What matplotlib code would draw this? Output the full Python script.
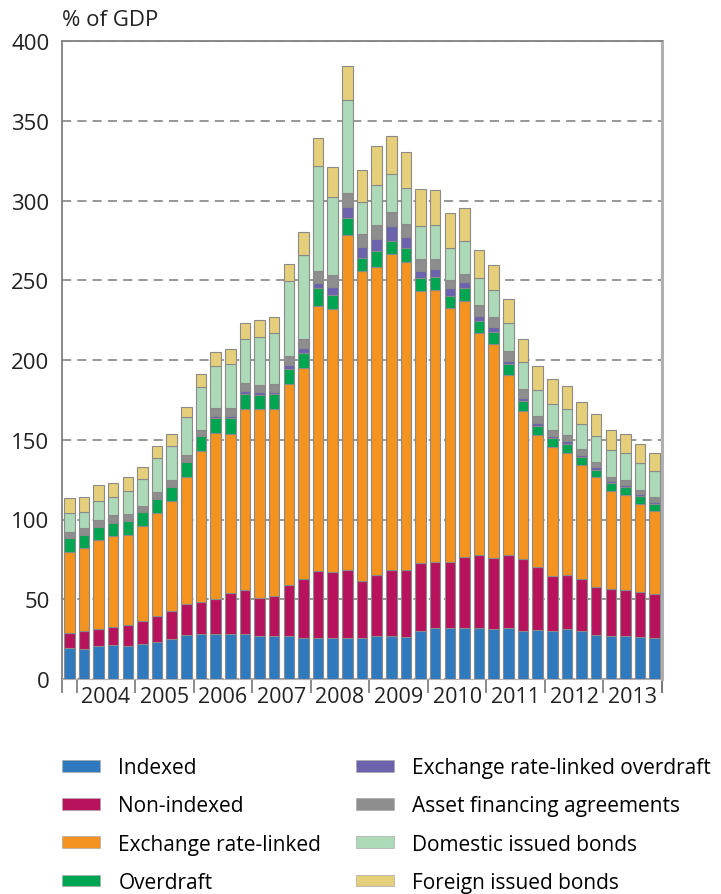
import numpy as np
import matplotlib
matplotlib.use("Agg")
import matplotlib.pyplot as plt
from matplotlib.patches import Patch

plt.rcParams['font.family'] = ['Open Sans', 'DejaVu Sans']

# quarterly, 2003Q4 - 2013Q4, % of GDP
years = ['2004', '2005', '2006', '2007', '2008', '2009', '2010', '2011', '2012', '2013']

indexed = [19.6, 18.8, 20.5, 21.1, 20.5, 21.9, 23.2, 25.3, 27.8, 28.2, 28.0, 28.0, 28.2, 27.2,
           26.7, 27.2, 25.7, 25.7, 25.5, 25.5, 25.7, 27.2, 26.7, 26.5, 29.9, 32.0, 32.0, 32.0,
           31.8, 31.3, 32.0, 29.9, 30.7, 29.9, 31.1, 29.9, 27.8, 27.2, 27.2, 26.5, 25.7]
non_indexed = [9.0, 11.1, 11.0, 11.7, 13.4, 14.5, 16.5, 17.5, 19.2, 20.3, 22.2, 25.7, 27.4, 23.6,
               25.5, 31.5, 37.2, 42.0, 41.6, 43.0, 35.5, 37.8, 41.8, 42.0, 42.8, 41.4, 41.4, 44.2,
               46.1, 44.8, 45.5, 45.3, 39.3, 34.5, 33.9, 32.6, 30.1, 29.4, 28.4, 27.8, 27.6]
fx_linked = [51.2, 52.0, 55.8, 56.7, 56.6, 59.5, 64.4, 68.8, 79.6, 94.2, 103.8, 99.7, 113.9, 118.3,
             116.9, 126.0, 132.3, 166.0, 164.9, 210.1, 194.4, 193.5, 198.0, 192.7, 170.4, 170.7,
             159.0, 161.0, 139.2, 134.1, 113.3, 92.8, 83.0, 81.2, 76.5, 71.5, 68.6, 61.5, 60.0,
             55.6, 52.0]
overdraft = [8.4, 8.4, 7.8, 8.3, 8.4, 8.6, 8.8, 9.0, 9.6, 9.4, 9.6, 10.2, 9.4, 9.2, 9.6, 9.7, 9.2,
             11.2, 8.8, 10.2, 8.1, 9.6, 8.3, 8.8, 8.5, 8.1, 7.9, 7.7, 7.4, 7.2, 6.7, 6.1, 5.8, 5.3,
             5.8, 5.2, 4.7, 4.6, 4.6, 4.6, 4.4]
fx_overdraft = [0.5, 0.5, 0.5, 0.5, 0.5, 0.5, 0.6, 0.6, 0.6, 1.1, 1.6, 1.6, 1.6, 1.5, 1.5, 2.5, 2.9,
                3.4, 4.8, 7.3, 6.9, 7.8, 9.0, 6.9, 4.2, 4.9, 4.6, 3.8, 2.9, 3.1, 2.1, 2.1, 1.5, 1.6,
                1.7, 1.4, 1.5, 1.3, 1.2, 1.3, 1.3]
asset_fin = [3.3, 3.7, 4.3, 4.5, 3.8, 3.7, 3.6, 3.6, 3.6, 3.1, 4.9, 4.9, 5.1, 4.7, 4.8, 5.4, 5.9,
             7.5, 7.5, 8.4, 8.4, 8.7, 8.8, 8.6, 7.5, 6.2, 5.5, 5.1, 7.1, 6.7, 6.0, 5.6, 4.4, 3.8,
             4.0, 3.6, 3.2, 2.9, 3.4, 2.9, 2.9]
dom_bonds = [11.9, 10.0, 11.7, 11.1, 14.5, 16.7, 21.3, 21.5, 23.7, 26.6, 26.3, 27.4, 27.4, 29.7,
             31.7, 47.4, 52.6, 65.6, 49.3, 58.7, 19.9, 25.3, 24.0, 22.1, 20.9, 21.3, 19.6, 20.6,
             17.0, 16.7, 17.4, 16.7, 16.5, 16.3, 16.3, 15.5, 16.3, 16.5, 16.9, 16.9, 16.7]
for_bonds = [9.6, 9.8, 10.0, 9.2, 8.7, 7.3, 7.9, 7.3, 6.6, 8.3, 8.8, 9.4, 10.4, 10.7, 10.1, 10.5,
             14.5, 17.6, 18.6, 20.9, 20.4, 24.1, 24.0, 22.8, 23.0, 22.2, 22.0, 21.1, 17.2, 15.9,
             15.2, 14.7, 14.8, 15.5, 14.6, 14.0, 13.8, 12.5, 12.1, 11.7, 11.3]

series = [indexed, non_indexed, fx_linked, overdraft, fx_overdraft, asset_fin, dom_bonds, for_bonds]
labels = ['Indexed', 'Non-indexed', 'Exchange rate-linked', 'Overdraft',
          'Exchange rate-linked overdraft', 'Asset financing agreements',
          'Domestic issued bonds', 'Foreign issued bonds']
colors = ['#2f79bf', '#b8125c', '#f4931f', '#00a551', '#6b63ae', '#8e8e8e', '#acd9b7', '#e6cf7b']

fig = plt.figure(figsize=(7.21, 8.95), dpi=100)
ax = fig.add_axes([62 / 721, 215 / 895, 600 / 721, 638 / 895])

x = np.arange(len(indexed))
bottom = np.zeros(len(x))
for vals, col in zip(series, colors):
    ax.bar(x, vals, width=0.72, bottom=bottom, color=col, edgecolor='#8a8a8a',
           linewidth=0.8, zorder=3)
    bottom += np.array(vals)

ax.set_xlim(-0.5, 40.5)
ax.set_ylim(0, 400)
ax.set_yticks(np.arange(0, 401, 50))
ax.yaxis.grid(True, color='#7a7a7a', linestyle=(0, (6, 4)), linewidth=1.1, zorder=0)
ax.tick_params(axis='y', length=0, pad=9, labelsize=16, colors='#222222')

ax.set_xticks([-0.5] + np.arange(0.5, 41, 4).tolist() + [40.5])
ax.set_xticks(np.arange(2.5, 40, 4), minor=True)
ax.set_xticklabels([], minor=False)
ax.set_xticklabels(years, minor=True)
ax.tick_params(axis='x', which='major', length=10, width=1.2, color='#777777')
ax.tick_params(axis='x', which='minor', length=0, pad=5, labelsize=15.5, colors='#222222')

for s in ['left', 'top']:
    ax.spines[s].set_color('#808080')
    ax.spines[s].set_linewidth(1.3)
ax.spines['right'].set_color('#b0b0b0')
ax.spines['right'].set_linewidth(2.2)
ax.spines['bottom'].set_color('#b0b0b0')
ax.spines['bottom'].set_linewidth(0.8)

fig.text(62 / 721, 1 - 26 / 895, '% of GDP', fontsize=16, color='#222222', va='baseline')

handles = [Patch(facecolor=c, edgecolor='#aaaaaa', linewidth=0.5) for c in colors]
for k, xpos in enumerate([62, 356]):
    fig.legend(handles[4 * k:4 * k + 4], labels[4 * k:4 * k + 4], loc='upper left',
               bbox_to_anchor=(xpos / 721, 1 - 758 / 895), frameon=False, fontsize=15,
               borderpad=0, borderaxespad=0, handlelength=1.8, handleheight=0.5,
               handletextpad=0.9, labelspacing=0.83)

fig.savefig('out.png', dpi=100)
